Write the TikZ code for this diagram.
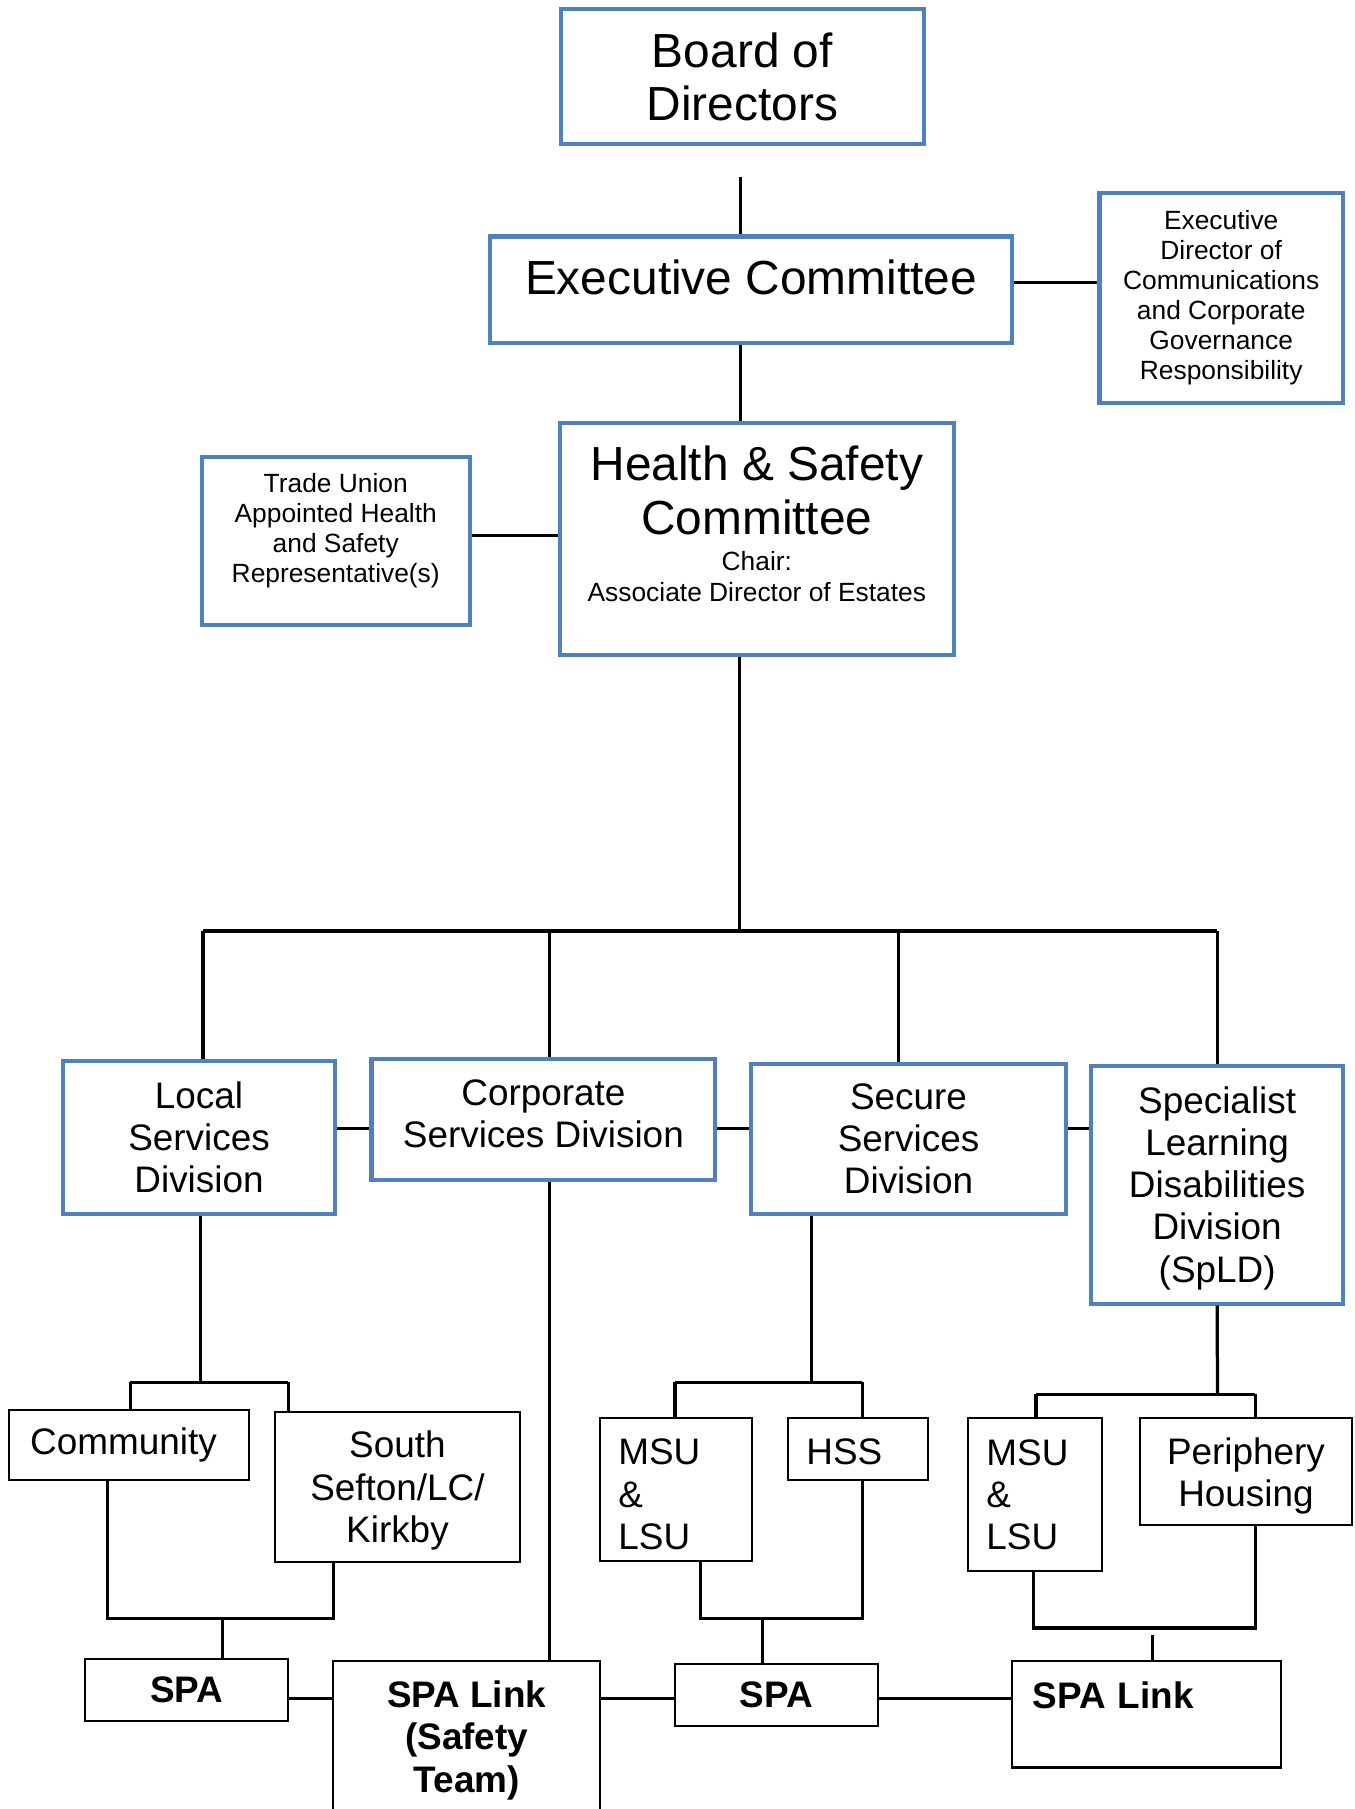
\documentclass[tikz,border=0pt]{standalone}
\usepackage{fontspec}
\setmainfont{Liberation Sans}

\definecolor{boxblue}{RGB}{79,129,189}
\newcommand{\smallsize}{\fontsize{6.5}{7.4}\selectfont}
\newcommand{\padbelow}[1]{\rule[-#1]{0pt}{#1}}
\newcommand{\padabove}[1]{\rule{0pt}{#1}}

\begin{document}
\begin{tikzpicture}[
    bigtext/.style={font=\fontsize{11.8}{13.2}\selectfont},
    midtext/.style={font=\fontsize{9.1}{10.4}\selectfont},
    smalltext/.style={font=\smallsize},
    unitbox/.style={rectangle, draw=boxblue, line width=1pt, inner sep=0pt, align=center},
    subbox/.style={rectangle, draw=black, line width=0.5pt, inner sep=0pt, align=center, midtext},
    leftbox/.style={subbox, align=left, inner xsep=0.16cm, text width=#1},
    spabox/.style={subbox, font=\fontsize{9.1}{10.4}\selectfont\bfseries},
    link/.style={black, line width=0.8pt}
]

\useasboundingbox (0,0) rectangle (11.74,-15.68);
\clip (0,0) rectangle (11.74,-15.68);

% ============================================
% BOARD AND COMMITTEES
% ============================================
\node[unitbox, bigtext, minimum width=3.15cm, minimum height=1.17cm] (board) at (6.435,-0.665) {Board of\\Directors};
\node[unitbox, bigtext, minimum width=4.52cm, minimum height=0.92cm] (exec) at (6.51,-2.51) {Executive Committee\padbelow{0.21cm}};
\node[unitbox, smalltext, minimum width=2.11cm, minimum height=1.82cm] (execdir) at (10.585,-2.58)
    {Executive\\Director of\\Communications\\and Corporate\\Governance\\Responsibility};
\node[unitbox, bigtext, minimum width=3.42cm, minimum height=2.01cm] (hsc) at (6.56,-4.675)
    {Health \& Safety\\Committee\\[-4.4pt]{\smallsize Chair:}\\[-5.5pt]{\smallsize Associate Director of Estates}\padbelow{0.27cm}};
\node[unitbox, smalltext, minimum width=2.32cm, minimum height=1.46cm] (union) at (2.91,-4.69)
    {Trade Union\\Appointed Health\\and Safety\\Representative(s)\padbelow{0.23cm}};

% ============================================
% DIVISIONS
% ============================================
\node[unitbox, midtext, minimum width=2.35cm, minimum height=1.32cm] (localdiv) at (1.725,-9.86) {Local\\Services\\Division};
\node[unitbox, midtext, minimum width=2.98cm, minimum height=1.05cm] (corpdiv) at (4.71,-9.705) {Corporate\\Services Division\padbelow{0.10cm}};
\node[unitbox, midtext, minimum width=2.73cm, minimum height=1.30cm] (securediv) at (7.875,-9.87) {Secure\\Services\\Division};
\node[unitbox, midtext, minimum width=2.18cm, minimum height=2.06cm] (spld) at (10.55,-10.27) {\padabove{0.29cm}Specialist\\Learning\\Disabilities\\Division\\(SpLD)};

% ============================================
% SERVICES UNDER EACH DIVISION
% ============================================
\node[subbox, minimum width=2.08cm, minimum height=0.61cm] (community) at (1.12,-12.525) {Community\hspace{0.1cm}};
\node[subbox, minimum width=2.13cm, minimum height=1.30cm] (sefton) at (3.445,-12.89) {\padabove{0.29cm}South\\Sefton/LC/\\Kirkby};
\node[leftbox=1.00cm, minimum width=1.32cm, minimum height=1.24cm] (msusecure) at (5.86,-12.91) {\padabove{0.31cm}MSU\\\&\\LSU};
\node[leftbox=0.89cm, minimum width=1.21cm, minimum height=0.54cm] (hss) at (7.435,-12.56) {\padabove{0.27cm}HSS};
\node[leftbox=0.84cm, minimum width=1.16cm, minimum height=1.33cm] (msuspld) at (8.97,-12.955) {MSU\\\&\\LSU};
\node[subbox, minimum width=1.84cm, minimum height=0.93cm] (periphery) at (10.80,-12.755) {\padabove{0.31cm}Periphery\\Housing};

% ============================================
% SPA ROW
% ============================================
\node[spabox, minimum width=1.76cm, minimum height=0.54cm] (spalocal) at (1.62,-14.65) {SPA};
\node[spabox, minimum width=2.31cm, minimum height=1.37cm] (spalink) at (4.045,-15.085) {SPA Link\\(Safety\\Team)};
\node[spabox, minimum width=1.76cm, minimum height=0.54cm] (spasecure) at (6.73,-14.69) {SPA};
\node[spabox, align=left, inner xsep=0.18cm, text width=1.97cm, minimum width=2.33cm, minimum height=0.92cm] (spalinkspld) at (9.935,-14.86) {SPA Link\padbelow{0.33cm}};

% ============================================
% CONNECTORS, TOP
% ============================================
\coordinate (spine) at (6.42,-1.53);
\draw[link] (spine) -- (spine |- exec.north);
\draw[link] (spine |- exec.south) -- (spine |- hsc.north);
\draw[link] ([yshift=0.06cm]exec.east) -- ([yshift=0.06cm]exec.east -| execdir.west);
\draw[link] ([yshift=0.05cm]union.east) -- ([yshift=0.05cm]union.east -| hsc.west);

% bus to the divisions
\coordinate (hub) at (6.41,-8.07);
\coordinate (busleft) at (1.76,-8.07);
\coordinate (busright) at (10.55,-8.07);
\coordinate (corpdrop) at (4.76,-8.07);
\coordinate (securedrop) at (7.79,-8.07);
\draw[link] (hub |- hsc.south) -- (hub);
\draw[link] (busleft) -- (busright);
\draw[link] (busleft) -- (busleft |- localdiv.north);
\draw[link] (corpdrop) -- (corpdrop |- corpdiv.north);
\draw[link] (securedrop) -- (securedrop |- securediv.north);
\draw[link] (busright) -- (busright |- spld.north);

% links between the divisions
\coordinate (divrow) at (0,-9.78);
\draw[link] (localdiv.east |- divrow) -- (corpdiv.west |- divrow);
\draw[link] (corpdiv.east |- divrow) -- (securediv.west |- divrow);
\draw[link] (securediv.east |- divrow) -- (spld.west |- divrow);

% ============================================
% CONNECTORS, BRANCHES
% ============================================
% Local Services
\coordinate (localbus) at (1.74,-11.98);
\coordinate (commdrop) at (1.13,-11.98);
\coordinate (seftondrop) at (2.50,-11.98);
\draw[link] (localbus |- localdiv.south) -- (localbus);
\draw[link] (commdrop) -- (seftondrop);
\draw[link] (commdrop) -- (commdrop |- community.north);
\draw[link] (seftondrop) -- (seftondrop |- sefton.north);
\coordinate (commup) at (0.93,-14.03);
\coordinate (seftonup) at (2.89,-14.03);
\coordinate (spalocalup) at (1.93,-14.03);
\draw[link] (commup |- community.south) -- (commup) -- (seftonup) -- (seftonup |- sefton.south);
\draw[link] (spalocalup) -- (spalocalup |- spalocal.north);

% Corporate Services
\draw[link] (corpdrop |- corpdiv.south) -- (corpdrop |- spalink.north);

% Secure Services
\coordinate (securebus) at (7.035,-11.98);
\coordinate (msudrop) at (5.85,-11.98);
\coordinate (hssdrop) at (7.475,-11.98);
\draw[link] (securebus |- securediv.south) -- (securebus);
\draw[link] (msudrop) -- (hssdrop);
\draw[link] (msudrop) -- (msudrop |- msusecure.north);
\draw[link] (hssdrop) -- (hssdrop |- hss.north);
\coordinate (msuup) at (6.07,-14.03);
\coordinate (spasecureup) at (6.61,-14.03);
\draw[link] (msuup |- msusecure.south) -- (msuup) -- (hssdrop |- msuup) -- (hssdrop |- hss.south);
\draw[link] (spasecureup) -- (spasecureup |- spasecure.north);

% SpLD
\coordinate (spldbus) at (10.553,-12.085);
\coordinate (msuspldrop) at (8.98,-12.085);
\coordinate (peridrop) at (10.88,-12.085);
\draw[link] (spld.south) -- (spldbus);
\draw[link] (msuspldrop) -- (peridrop);
\draw[link] (msuspldrop) -- (msuspldrop |- msuspld.north);
\draw[link] (peridrop) -- (peridrop |- periphery.north);
\coordinate (msusplup) at (8.96,-14.11);
\coordinate (linkstub) at (9.99,-14.17);
\draw[link] (msusplup |- msuspld.south) -- (msusplup) -- (peridrop |- msusplup) -- (peridrop |- periphery.south);
\draw[link] (linkstub) -- (linkstub |- spalinkspld.north);

% SPA row
\coordinate (sparow) at (0,-14.72);
\draw[link] (spalocal.east |- sparow) -- (spalink.west |- sparow);
\draw[link] (spalink.east |- sparow) -- (spasecure.west |- sparow);
\draw[link] (spasecure.east |- sparow) -- (spalinkspld.west |- sparow);

\end{tikzpicture}
\end{document}
